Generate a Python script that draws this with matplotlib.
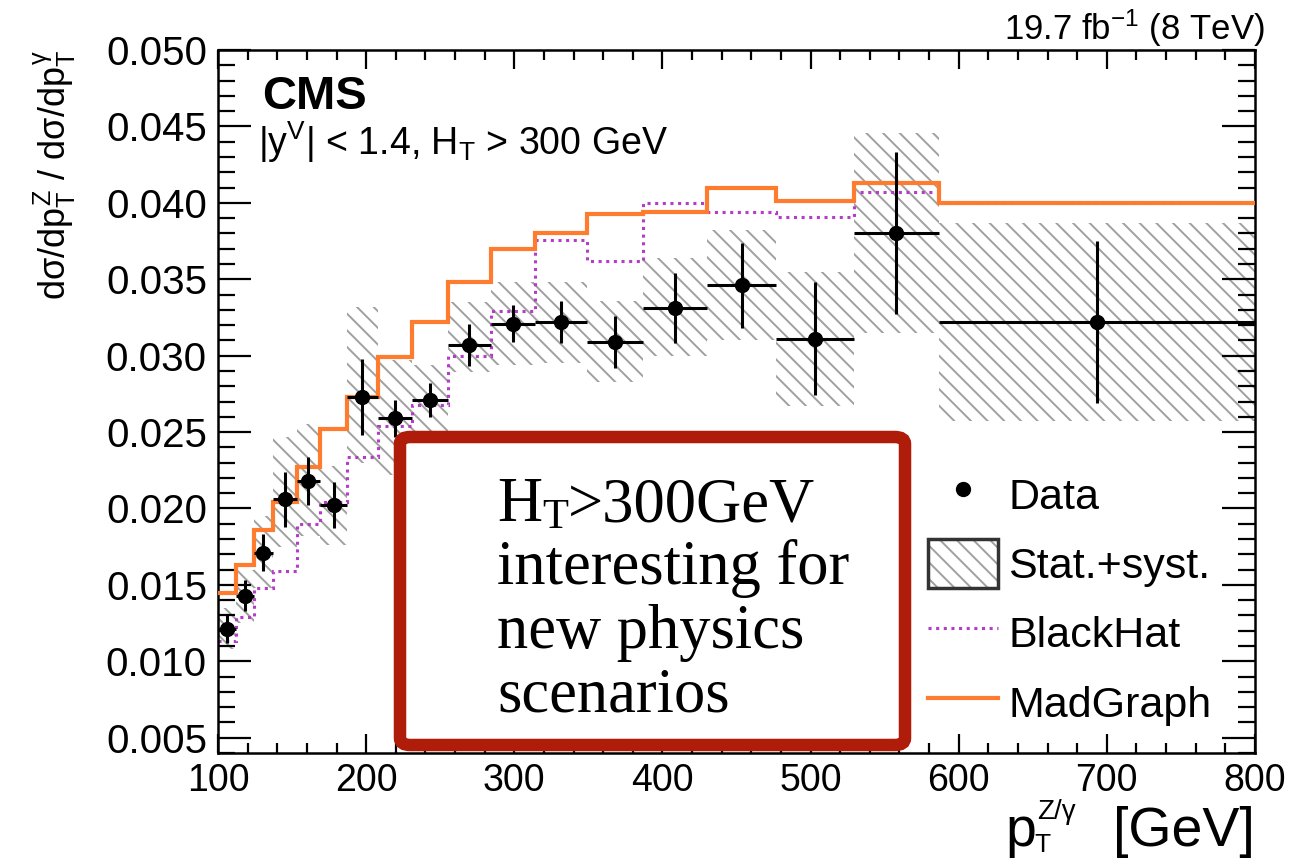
import matplotlib
matplotlib.use("Agg")
import matplotlib.pyplot as plt
import numpy as np
from matplotlib.lines import Line2D
from matplotlib.patches import Patch, FancyBboxPatch
from matplotlib.legend_handler import HandlerTuple

# ---------------- data ----------------
bin_edges = [100, 112, 124, 137, 153, 169, 187, 208, 231, 255, 284, 314,
             349, 387, 430, 477, 529, 587, 800]
data_vals = [0.0121, 0.0143, 0.0171, 0.0206, 0.0218, 0.0202, 0.0273, 0.0259,
             0.0271, 0.0307, 0.0321, 0.0322, 0.0309, 0.0331, 0.0346, 0.0311,
             0.0380, 0.0322]
data_err = [0.0009, 0.0010, 0.0012, 0.0018, 0.0016, 0.0015, 0.0025, 0.0012,
            0.0011, 0.0014, 0.0012, 0.0014, 0.0017, 0.0023, 0.0028, 0.0037,
            0.0053, 0.0053]
unc_low = [0.0108, 0.0125, 0.0148, 0.0175, 0.0182, 0.0176, 0.0230, 0.0222,
           0.0238, 0.0289, 0.0294, 0.0295, 0.0283, 0.0300, 0.0310, 0.0267,
           0.0315, 0.0257]
unc_high = [0.0135, 0.0160, 0.0195, 0.0247, 0.0255, 0.0228, 0.0332, 0.0297,
            0.0294, 0.0335, 0.0348, 0.0348, 0.0336, 0.0364, 0.0382, 0.0355,
            0.0446, 0.0387]
blackhat = [0.0113, 0.0129, 0.0148, 0.0159, 0.0190, 0.0204, 0.0234, 0.0254,
            0.0268, 0.0300, 0.0329, 0.0376, 0.0362, 0.0400, 0.0394, 0.0391,
            0.0407, 0.0400]
madgraph = [0.0145, 0.0163, 0.0186, 0.0204, 0.0227, 0.0252, 0.0273, 0.0299,
            0.0322, 0.0348, 0.0370, 0.0380, 0.0393, 0.0394, 0.0410, 0.0401,
            0.0413, 0.0400]
x_ticks = [100, 200, 300, 400, 500, 600, 700, 800]
y_ticks = [0.005, 0.010, 0.015, 0.020, 0.025, 0.030, 0.035, 0.040, 0.045, 0.050]

# ---------------- style ----------------
plt.rcParams['font.family'] = ['Liberation Sans', 'DejaVu Sans']
plt.rcParams['mathtext.fontset'] = 'custom'
plt.rcParams['mathtext.rm'] = 'Liberation Sans'
plt.rcParams['mathtext.it'] = 'Liberation Sans'
plt.rcParams['mathtext.bf'] = 'Liberation Sans:bold'
plt.rcParams['mathtext.sf'] = 'Liberation Sans'
plt.rcParams['hatch.linewidth'] = 1.4

HATCH_C = '#a0a0a0'
W, H = 1292, 861
fig = plt.figure(figsize=(W / 100, H / 100), dpi=100)
ax = fig.add_axes([218 / W, 1 - 753 / H, (1255 - 218) / W, (753 - 50) / H])

edges = np.array(bin_edges, dtype=float)
centers = 0.5 * (edges[:-1] + edges[1:])
halfw = 0.5 * np.diff(edges)
lo = np.array(unc_low)
hi = np.array(unc_high)

ax.bar(edges[:-1], hi - lo, width=np.diff(edges), bottom=lo, align='edge',
       facecolor='none', edgecolor=HATCH_C, linewidth=0,
       hatch='\\\\', zorder=1)
ax.stairs(blackhat, edges, baseline=None, color='#b43cc8', lw=2.2,
          linestyle=(0, (1, 1.5)), zorder=2)
ax.stairs(madgraph, edges, baseline=None, color='#ff7b2e', lw=3, zorder=3)
ax.errorbar(centers, data_vals, xerr=halfw, yerr=data_err, fmt='o',
            color='black', ms=10, elinewidth=2.2, capsize=0, zorder=4)

ax.set_xlim(100, 800)
ax.set_ylim(0.004, 0.050)
ax.set_xticks(x_ticks)
ax.set_xticklabels([str(t) for t in x_ticks])
ax.set_yticks(y_ticks)
ax.set_yticklabels([f"{t:.3f}" for t in y_ticks])
ax.xaxis.set_minor_locator(matplotlib.ticker.MultipleLocator(20))
ax.yaxis.set_minor_locator(matplotlib.ticker.MultipleLocator(0.001))
ax.tick_params(axis='both', which='both', direction='in', top=True,
               right=True, width=1.6)
ax.tick_params(axis='x', which='major', length=14, pad=7, labelsize=27)
ax.tick_params(axis='x', which='minor', length=7)
ax.tick_params(axis='y', which='major', length=24, pad=8, labelsize=29)
ax.tick_params(axis='y', which='minor', length=12)
for s in ax.spines.values():
    s.set_linewidth(1.8)

ax.set_ylabel(r'd$\sigma$/d$p_{T}^{Z}$ / d$\sigma$/d$p_{T}^{\gamma}$',
              fontsize=26, loc='top', labelpad=20)

# x-axis title built from pieces (large p, small stacked scripts)
fig.canvas.draw()
tp = fig.text(1005 / W, 1 - 846 / H, 'p', fontsize=40, va='baseline')
fig.canvas.draw()
pb = tp.get_window_extent()
fig.text(pb.x1 / W - 0.001, 1 - 852 / H, 'T', fontsize=19, va='baseline')
fig.text(pb.x1 / W + 0.001, 1 - 819 / H, 'Z/\u03b3', fontsize=20,
         va='baseline')
fig.text(1255 / W, 1 - 846 / H, '[GeV]', fontsize=40, va='baseline',
         ha='right')

ax.text(262 / W, 1 - 109 / H, 'CMS', transform=fig.transFigure,
        fontsize=34, fontweight='bold', va='baseline')
ax.text(258 / W, 1 - 155 / H, r'|y$^{V}$| < 1.4, H$_{T}$ > 300 GeV',
        transform=fig.transFigure, fontsize=27, va='baseline')
ax.text(1265 / W, 1 - 40 / H, r'19.7 fb$^{-1}$ (8 TeV)',
        transform=fig.transFigure, fontsize=25, ha='right')

# legend
h_data = Line2D([], [], marker='o', ls='none', color='black', ms=10)
h_unc1 = Patch(facecolor='white', edgecolor=HATCH_C, hatch='\\\\', lw=0)
h_unc2 = Patch(facecolor='none', edgecolor='#333333', lw=2.5)
h_bh = Line2D([], [], color='#b43cc8', lw=2.2, linestyle=(0, (1, 1.5)))
h_mg = Line2D([], [], color='#ff7b2e', lw=3)
leg = ax.legend([h_data, (h_unc1, h_unc2), h_bh, h_mg],
                ['Data', 'Stat.+syst.', 'BlackHat', 'MadGraph'],
                handler_map={tuple: HandlerTuple(ndivide=1, pad=0)},
                loc='upper left', bbox_to_anchor=(928 / W, 1 - 470 / H),
                bbox_transform=fig.transFigure, frameon=False, fontsize=31,
                handlelength=1.63, handleheight=1.35, labelspacing=0.49,
                handletextpad=0.23, borderaxespad=0, borderpad=0)

# red annotation box
box = FancyBboxPatch((400 / W, 1 - 745 / H), 505 / W, 308 / H,
                     boxstyle='round,pad=0,rounding_size=0.008',
                     transform=fig.transFigure, facecolor='white',
                     edgecolor='#b01c0a', lw=9, zorder=10, clip_on=False)
fig.patches.append(box)

serif = ['Liberation Serif', 'DejaVu Serif']
fs = 45
x0 = 497 / W
tH = fig.text(x0, 1 - 521 / H, 'H', fontsize=fs, family=serif, zorder=11)
fig.canvas.draw()
bb = tH.get_window_extent()
tT = fig.text(bb.x1 / W, (H - 528) / H, 'T', fontsize=fs * 0.68,
              family=serif, zorder=11)
fig.canvas.draw()
bb2 = tT.get_window_extent()
fig.text(bb2.x1 / W, 1 - 521 / H, '>300GeV', fontsize=fs, family=serif,
         zorder=11)
for txt, yb in [('interesting for', 584), ('new physics', 648),
                ('scenarios', 712)]:
    fig.text(x0, 1 - yb / H, txt, fontsize=fs, family=serif, zorder=11)

fig.savefig('out.png', dpi=100)
